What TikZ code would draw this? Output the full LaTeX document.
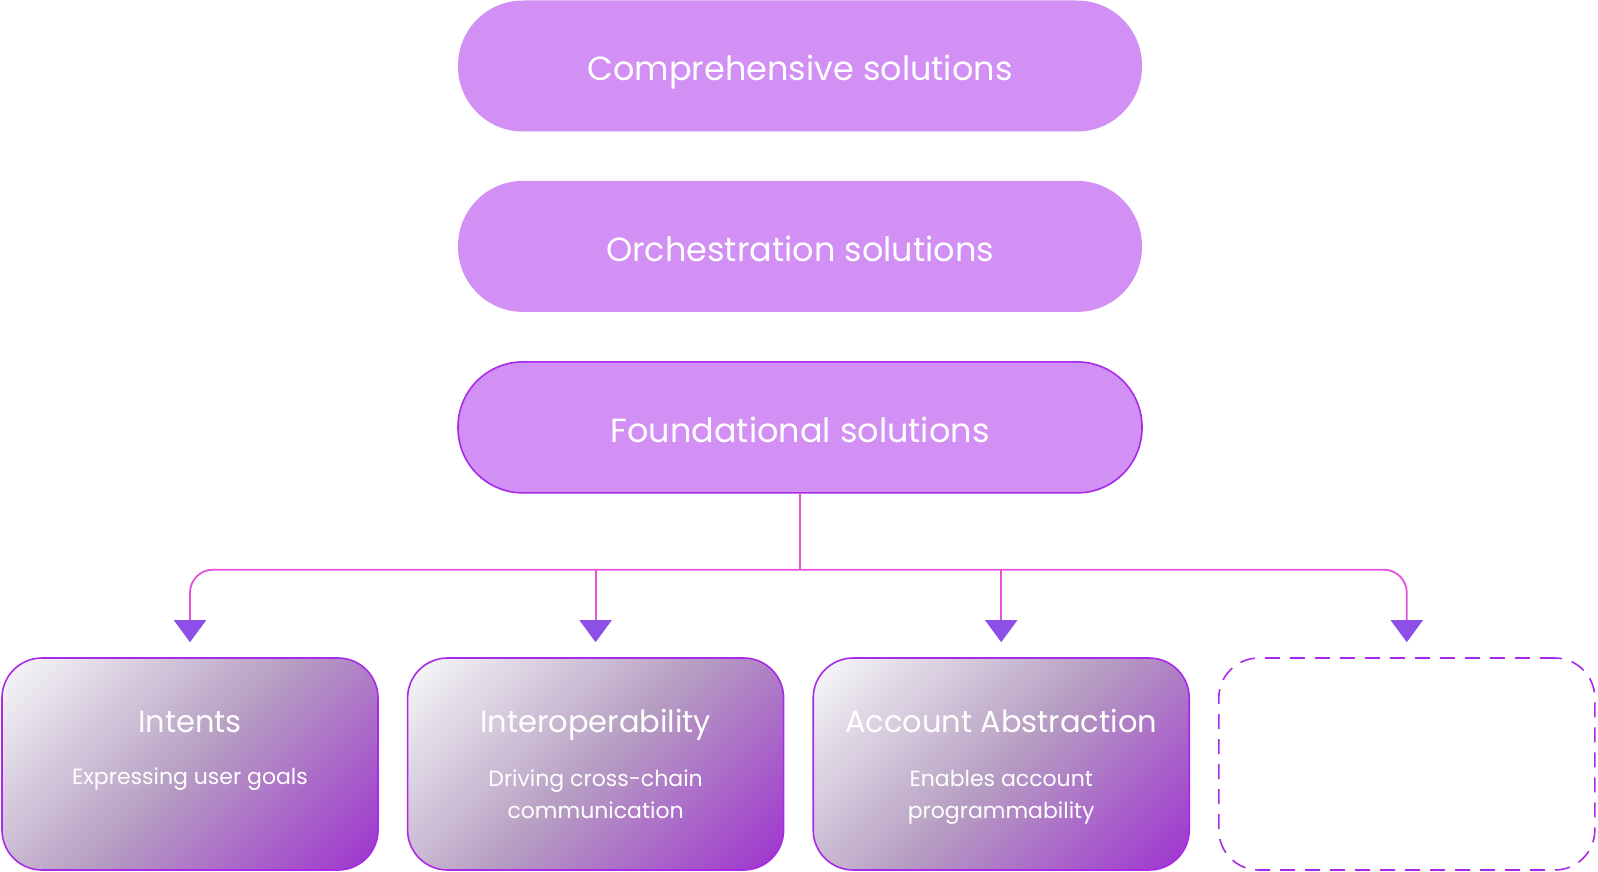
\documentclass[tikz,border=0pt]{standalone}
\usepackage{fontspec}
\setmainfont{Poppins}
\usepackage{xcolor}
\definecolor{lilac}{RGB}{210,144,244}
\definecolor{grape}{RGB}{168,42,232}
\definecolor{rose}{RGB}{228,82,216}
\definecolor{tipviolet}{RGB}{140,80,232}
\definecolor{mist}{RGB}{243,243,245}
\definecolor{mauve}{RGB}{182,158,194}
\definecolor{plum}{RGB}{160,58,206}
\usetikzlibrary{arrows.meta,positioning}
\pgfdeclareverticalshading{cardfade}{100bp}{color(0bp)=(plum); color(29bp)=(plum);
  color(50bp)=(mauve); color(71bp)=(mist); color(100bp)=(mist)}
\tikzset{
  pill/.style={rectangle,rounded corners=65pt,fill=lilac,minimum width=684pt,%
    minimum height=131pt,text=white,text height=30pt,text depth=0pt,%
    font=\fontsize{33.5}{38}\selectfont},
  card/.style={rectangle,rounded corners=40pt,draw=grape,line width=1.6pt,%
    minimum width=376pt,minimum height=212pt,
    path picture={\shade[shading=cardfade,shading angle=45]
      ([shift={(-230pt,-230pt)}]path picture bounding box.center) rectangle
      ([shift={(230pt,230pt)}]path picture bounding box.center);}},
  slot/.style={rectangle,rounded corners=40pt,draw=grape,line width=1.6pt,%
    minimum width=376pt,minimum height=212pt,dash pattern=on 15pt off 10pt},
  cardtitle/.style={text=white,anchor=base,font=\fontsize{30.5}{36}\selectfont},
  cardsub/.style={text=white,align=center,anchor=base,font=\fontsize{22}{31.5}\selectfont},
  trunk/.style={draw=rose,line width=1.8pt},
  link/.style={trunk,-{Triangle[length=22pt,width=32pt,color=tipviolet]},%
    shorten >=15pt},
}
\begin{document}
\begin{tikzpicture}[x=1pt,y=1pt,node distance=49pt and 28pt]
\useasboundingbox (0,0) rectangle (1598,-872);
\node[pill] (comp) at (800,-66) {Comprehensive solutions};
\node[pill,below=of comp] (orch) {Orchestration solutions};
\node[pill,draw=grape,line width=1.6pt,below=of orch] (found) {Foundational solutions};
% bottom row
\node[card] (intents) at (190,-764) {};
\node[card,right=of intents] (interop) {};
\node[card,right=of interop] (aa) {};
\node[slot,right=of aa] (next) {};
\node[cardtitle] (intents-t) at ([yshift=32pt]intents.center) {Intents};
\node[cardtitle] (interop-t) at ([yshift=32pt]interop.center) {Interoperability};
\node[cardtitle] (aa-t) at ([yshift=32pt]aa.center) {Account Abstraction};
\node[cardsub] (intents-s) at ([yshift=-20pt]intents.center) {Expressing user goals};
\node[cardsub] (interop-s) at ([yshift=-54pt]interop.center) {Driving cross-chain\\communication};
\node[cardsub] (aa-s) at ([yshift=-54pt]aa.center) {Enables account\\programmability};
% connectors
\coordinate[below=76pt of found.south] (fork);
\draw[trunk] (found) -- (fork);
\draw[link,rounded corners=23pt] (fork) -| (intents);
\draw[link] (fork -| interop) -- (interop);
\draw[link] (fork -| aa) -- (aa);
\draw[link,rounded corners=23pt] (fork) -| (next);
\end{tikzpicture}
\end{document}
